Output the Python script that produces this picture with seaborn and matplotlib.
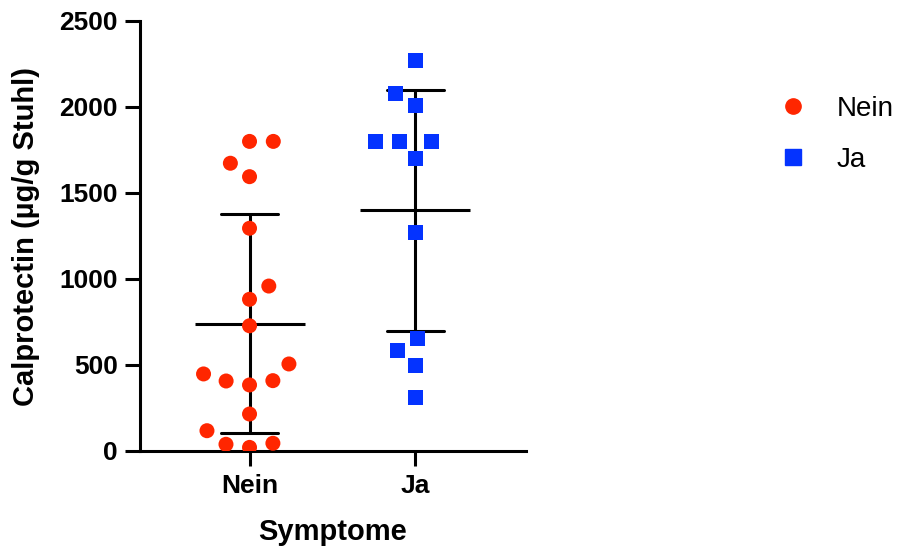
import numpy as np
import pandas as pd
import matplotlib
matplotlib.use("Agg")
import matplotlib.pyplot as plt
from matplotlib.lines import Line2D
import seaborn as sns

categories = ["Nein", "Ja"]
nein_values = [1800, 1800, 1673, 1595, 1295, 959, 882, 728, 506, 448, 384,
               407, 409, 215, 118, 21, 45, 39]
ja_values = [2269, 2080, 2010, 1800, 1800, 1800, 1702, 1272, 655, 585, 498, 312]
y_ticks = [0, 500, 1000, 1500, 2000, 2500]
colors = {"Nein": "#FF2600", "Ja": "#0433FF"}
markers = {"Nein": "o", "Ja": "s"}

df = pd.DataFrame({
    "Symptome": ["Nein"] * len(nein_values) + ["Ja"] * len(ja_values),
    "Calprotectin": nein_values + ja_values,
})

sns.set_theme(style="ticks")
plt.rcParams["font.family"] = ["Liberation Sans", "DejaVu Sans"]
plt.rcParams["text.color"] = "black"
plt.rcParams["axes.labelcolor"] = "black"

fig = plt.figure(figsize=(8.98, 5.48), dpi=100)
ax = fig.add_axes([140 / 898, 1 - 451 / 548, (526 - 140) / 898, (451 - 21) / 548])

lw = 2.2
# mean +/- SD
sns.pointplot(data=df, x="Symptome", y="Calprotectin", order=categories,
              errorbar="sd", capsize=0.34, color="black", linestyle="none",
              marker="_", markersize=79, markeredgewidth=lw,
              err_kws={"linewidth": lw, "zorder": 2}, zorder=2, ax=ax)

# invisible edge gives a looser, GraphPad-like spacing between points
for cat in categories:
    sub = df[df["Symptome"] == cat]
    sns.swarmplot(data=sub, x="Symptome", y="Calprotectin", order=categories,
                  color=colors[cat], marker=markers[cat], size=10.8,
                  linewidth=5.5, edgecolor="none", zorder=3, ax=ax,
                  warn_thresh=1)

ax.set_xlim(-0.66, 1.666)
ax.set_ylim(0, 2500)
ax.set_yticks(y_ticks)
ax.set_yticklabels([str(t) for t in y_ticks])

for side in ["top", "right"]:
    ax.spines[side].set_visible(False)
for side in ["left", "bottom"]:
    ax.spines[side].set_linewidth(lw)
    ax.spines[side].set_color("black")
    ax.spines[side].set_capstyle("projecting")

ax.tick_params(axis="both", length=10.8, width=lw, color="black",
               labelsize=19, labelcolor="black")
ax.tick_params(axis="y", pad=5)
ax.tick_params(axis="x", pad=6)
for lab in ax.get_xticklabels() + ax.get_yticklabels():
    lab.set_fontweight("bold")

ax.set_xlabel("Symptome", fontsize=21, fontweight="bold", labelpad=14,
              color="black")
ax.set_ylabel("Calprotectin (µg/g Stuhl)", fontsize=21, fontweight="bold",
              labelpad=14, color="black")

handles = [Line2D([], [], marker=markers[c], color=colors[c], linestyle="none",
                  markersize=11) for c in categories]
leg = fig.legend(handles, categories, loc="upper left",
                 bbox_to_anchor=(779 / 898, 1 - 96 / 548), frameon=False,
                 fontsize=20, handlelength=1.0, handletextpad=1.08,
                 labelspacing=0.9, borderpad=0, borderaxespad=0)
for t in leg.get_texts():
    t.set_color("black")

fig.savefig("out.png", dpi=100)
